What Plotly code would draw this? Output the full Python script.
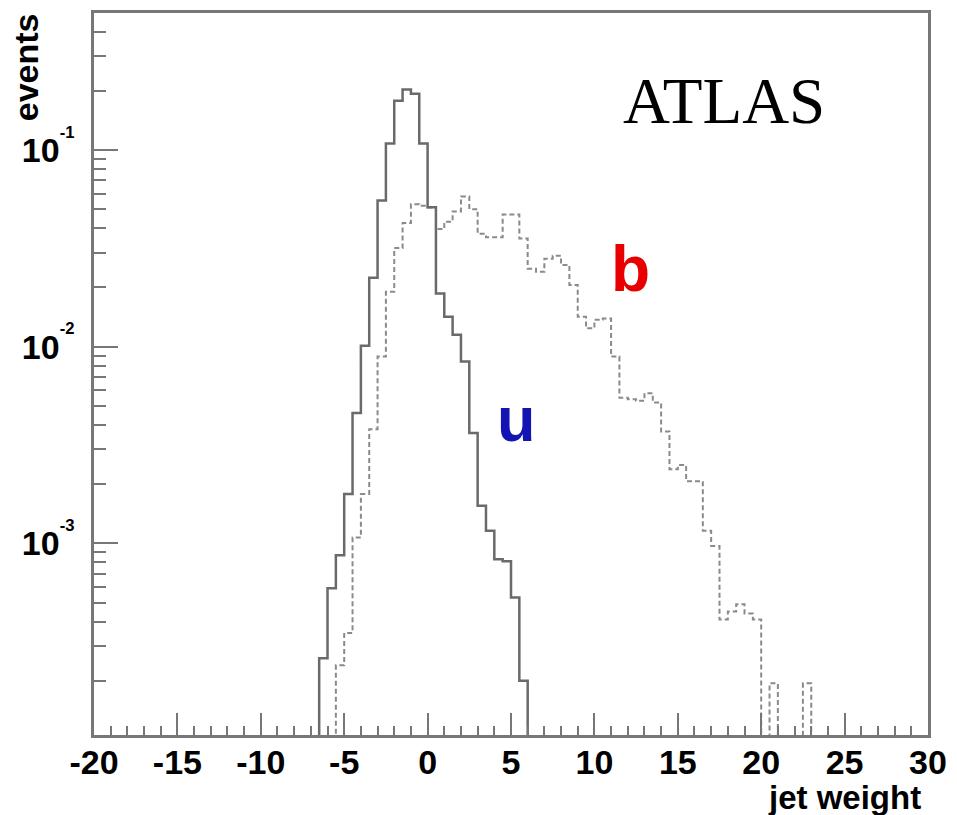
import numpy as np
import plotly.graph_objects as go

# ---- data ----
BIN_WIDTH = 0.5
FLOOR = 1e-6  # empty bins drawn down to below the axis (log scale)

# u-jet weight distribution (solid), first bin left edge
u_first_edge = -7.0
u_counts = [0, 2.6e-4, 5.9e-4, 8.7e-4, 1.78e-3, 4.6e-3, 0.0101, 0.0224, 0.0554,
            0.108, 0.178, 0.203, 0.193, 0.108, 0.0512, 0.0186, 0.0142, 0.0115,
            0.0084, 3.64e-3, 1.55e-3, 1.16e-3, 8.3e-4, 8.1e-4, 5.3e-4, 2.0e-4, 0]

# b-jet weight distribution (dashed), first bin left edge
b_first_edge = -6.0
b_counts = [0, 2.4e-4, 3.5e-4, 1.07e-3, 1.78e-3, 3.8e-3, 8.9e-3, 0.019, 0.0317,
            0.0425, 0.053, 0.052, 0.051, 0.0396, 0.0432, 0.0487, 0.058, 0.050,
            0.0375, 0.036, 0.036, 0.047, 0.047, 0.0355, 0.0249, 0.024, 0.028,
            0.029, 0.026, 0.0206, 0.0142, 0.0124, 0.0137, 0.0139, 0.0089, 5.5e-3,
            5.4e-3, 5.3e-3, 5.8e-3, 5.2e-3, 3.7e-3, 2.38e-3, 2.5e-3, 2.07e-3,
            2.07e-3, 1.16e-3, 9.7e-4, 4.1e-4, 4.5e-4, 4.9e-4, 4.4e-4, 4.1e-4, 0,
            1.94e-4, 0, 0, 0, 1.94e-4, 0]

x_ticks = [-20, -15, -10, -5, 0, 5, 10, 15, 20, 25, 30]
x_tick_labels = ["-20", "-15", "-10", "-5", "0", "5", "10", "15", "20", "25", "30"]
y_ticks = [1e-3, 1e-2, 1e-1]
y_tick_labels = ["10<sup><sup>-3</sup></sup>",
                 "10<sup><sup>-2</sup></sup>",
                 "10<sup><sup>-1</sup></sup>"]
y_minor = [m * d for d in (1e-4, 1e-3, 1e-2, 1e-1) for m in range(2, 10)]


def step_xy(first_edge, counts):
    edges = first_edge + BIN_WIDTH * np.arange(len(counts) + 1)
    y = list(counts) + [counts[-1]]
    y = [v if v > 0 else FLOOR for v in y]
    return edges, y


fig = go.Figure()
bx, by = step_xy(b_first_edge, b_counts)
fig.add_trace(go.Scatter(x=bx, y=by, mode="lines", line_shape="hv",
                         line=dict(color="#8a8a8a", width=2, dash="5px,3px"),
                         showlegend=False, hoverinfo="skip"))
ux, uy = step_xy(u_first_edge, u_counts)
fig.add_trace(go.Scatter(x=ux, y=uy, mode="lines", line_shape="hv",
                         line=dict(color="#6a6a6a", width=2.5),
                         showlegend=False, hoverinfo="skip"))

axis_color = "#777777"
sans_bold = "Liberation Sans, Arial, sans-serif"

fig.update_xaxes(range=[-20, 30], showline=True, linecolor=axis_color, linewidth=2.5,
                 mirror=True, showgrid=False, zeroline=False,
                 tickmode="array", tickvals=x_ticks, ticktext=x_tick_labels,
                 ticks="inside", ticklen=22,
                 tickwidth=2, tickcolor=axis_color,
                 tickfont=dict(family=sans_bold, size=34, color="black", weight=700),
                 ticklabelstandoff=-5,
                 minor=dict(dtick=1, ticks="inside", ticklen=9, tickwidth=1.5,
                            tickcolor=axis_color, showgrid=False))
fig.update_yaxes(type="log", range=[np.log10(1.06e-4), np.log10(0.497)],
                 showline=True, linecolor=axis_color, linewidth=2.5,
                 mirror=True, showgrid=False, zeroline=False,
                 tickmode="array", tickvals=y_ticks, ticktext=y_tick_labels,
                 ticks="inside", ticklen=24, tickwidth=2, tickcolor=axis_color,
                 tickfont=dict(family=sans_bold, size=34, color="black", weight=700),
                 ticklabelstandoff=10,
                 minor=dict(tickvals=y_minor, ticks="inside", ticklen=12, tickwidth=1.5,
                            tickcolor=axis_color, showgrid=False))

fig.add_annotation(text="ATLAS", xref="paper", yref="paper", x=0.7557, y=0.8786,
                   xanchor="center", yanchor="middle", showarrow=False,
                   font=dict(family="Liberation Serif, Times New Roman, serif", size=65, color="black"))
fig.add_annotation(text="b", xref="paper", yref="paper", x=0.6435, y=0.6455,
                   xanchor="center", yanchor="middle", showarrow=False,
                   font=dict(family=sans_bold, size=64, color="#e80000", weight=700))
fig.add_annotation(text="u", xref="paper", yref="paper", x=0.5060, y=0.4372,
                   xanchor="center", yanchor="middle", showarrow=False,
                   font=dict(family=sans_bold, size=63, color="#1414b4", weight=700))
fig.add_annotation(text="events", xref="paper", yref="paper", x=-0.0822, y=0.9255,
                   xanchor="center", yanchor="middle", showarrow=False, textangle=-90,
                   font=dict(family=sans_bold, size=34, color="black", weight=700))
fig.add_annotation(text="jet weight", xref="paper", yref="paper", x=0.9940, y=-0.0860,
                   xanchor="right", yanchor="middle", showarrow=False,
                   font=dict(family=sans_bold, size=33, color="black", weight=700))

fig.update_layout(width=957, height=815, margin=dict(l=94, r=24, t=10, b=80),
                  paper_bgcolor="white", plot_bgcolor="white")

fig.write_html("out.html")
